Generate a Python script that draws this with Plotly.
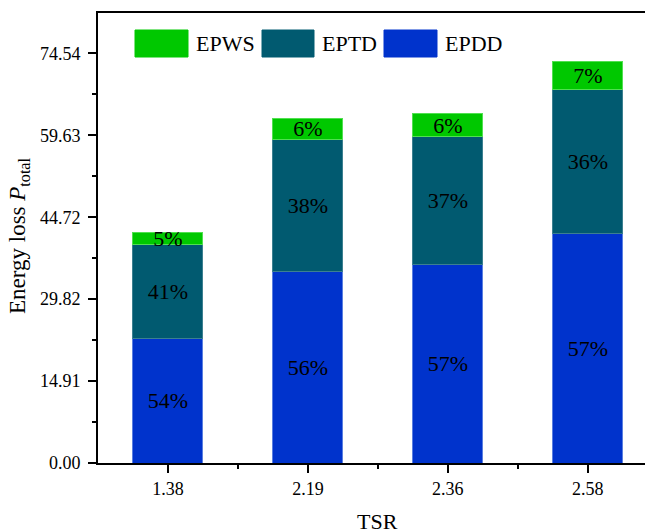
import plotly.graph_objects as go

categories = ["1.38", "2.19", "2.36", "2.58"]
epdd = [22.6, 34.8, 36.05, 41.8]
eptd = [17.1, 24.1, 23.35, 26.1]
epws = [2.2, 3.8, 4.2, 5.1]
epdd_pct = ["54%", "56%", "57%", "57%"]
eptd_pct = ["41%", "38%", "37%", "36%"]
epws_pct = ["5%", "6%", "6%", "7%"]

xpos = list(range(len(categories)))
FONT = "Liberation Serif"
C_DD = "#0033CC"
C_TD = "#015A70"
C_WS = "#00C800"

# page body has an 8px margin: figure coordinates = page coordinates - 8
OFF = 8
FW, FH = 645, 523
pl, pr, pt, pb = 98 - OFF, 653 - OFF, 13 - OFF, 463 - OFF

fig = go.Figure()
for name, vals, txt, col, edge in [
    ("EPDD", epdd, epdd_pct, C_DD, "#5a7fe0"),
    ("EPTD", eptd, eptd_pct, C_TD, "#3c8090"),
    ("EPWS", epws, epws_pct, C_WS, "#50e050"),
]:
    fig.add_trace(go.Bar(
        x=xpos, y=vals, name=name, width=0.5,
        marker=dict(color=col, line=dict(color=edge, width=1)),
        text=txt, textposition="inside", insidetextanchor="middle",
        textfont=dict(family=FONT, size=22, color="black"),
        constraintext="none", cliponaxis=False, showlegend=False,
    ))

fig.update_layout(
    barmode="stack",
    width=FW, height=FH,
    margin=dict(l=pl, r=FW - pr, t=pt, b=FH - pb),
    plot_bgcolor="white", paper_bgcolor="white",
    font=dict(family=FONT, size=18, color="black"),
    uniformtext=dict(mode=False),
)
fig.update_xaxes(
    range=[-0.5, 3.466],
    tickmode="array", tickvals=xpos, ticktext=categories,
    ticks="outside", ticklen=8, tickwidth=1.5, tickcolor="black",
    minor=dict(tickmode="array", tickvals=[0.5, 1.5, 2.5], ticks="outside",
               ticklen=4, tickwidth=1.5, tickcolor="black"),
    showline=True, linecolor="black", linewidth=2, mirror=True,
    showgrid=False, zeroline=False, automargin=False,
    tickfont=dict(family=FONT, size=18),
)
fig.update_yaxes(
    range=[0, 81.9],
    tickmode="linear", tick0=0, dtick=14.908, tickformat=".2f",
    ticks="outside", ticklen=8, tickwidth=1.5, tickcolor="black",
    ticklabelstandoff=4,
    minor=dict(dtick=7.454, tick0=0, ticks="outside", ticklen=4,
               tickwidth=1.5, tickcolor="black"),
    showline=True, linecolor="black", linewidth=2,
    showgrid=False, zeroline=False, automargin=False,
    tickfont=dict(family=FONT, size=18),
)

def px(x):
    return (x - OFF - pl) / (pr - pl)
def py(y):
    return (pb - (y - OFF)) / (pb - pt)

# axis titles
fig.add_annotation(xref="paper", yref="paper", x=px(377.5), y=py(521),
                   text="TSR", showarrow=False, xanchor="center", yanchor="middle",
                   font=dict(family=FONT, size=22, color="black"))
fig.add_annotation(xref="paper", yref="paper", x=px(19), y=py(236),
                   text="Energy loss <i>P</i><sub>total</sub>", textangle=-90,
                   showarrow=False, xanchor="center", yanchor="middle",
                   font=dict(family=FONT, size=23, color="black"))

# custom legend (wide swatches like the original)
legend_items = [("EPWS", C_WS, 135, 188), ("EPTD", C_TD, 262, 314), ("EPDD", C_DD, 384, 437)]
for name, col, x0, x1 in legend_items:
    fig.add_shape(type="rect", xref="paper", yref="paper",
                  x0=px(x0), x1=px(x1), y0=py(57), y1=py(30),
                  fillcolor=col, line=dict(color=col, width=1))
    fig.add_annotation(xref="paper", yref="paper", x=px(x1 + 6), y=py(43.5),
                       text=name, showarrow=False, xanchor="left", yanchor="middle",
                       font=dict(family=FONT, size=22, color="black"))

fig.write_html("out.html")
